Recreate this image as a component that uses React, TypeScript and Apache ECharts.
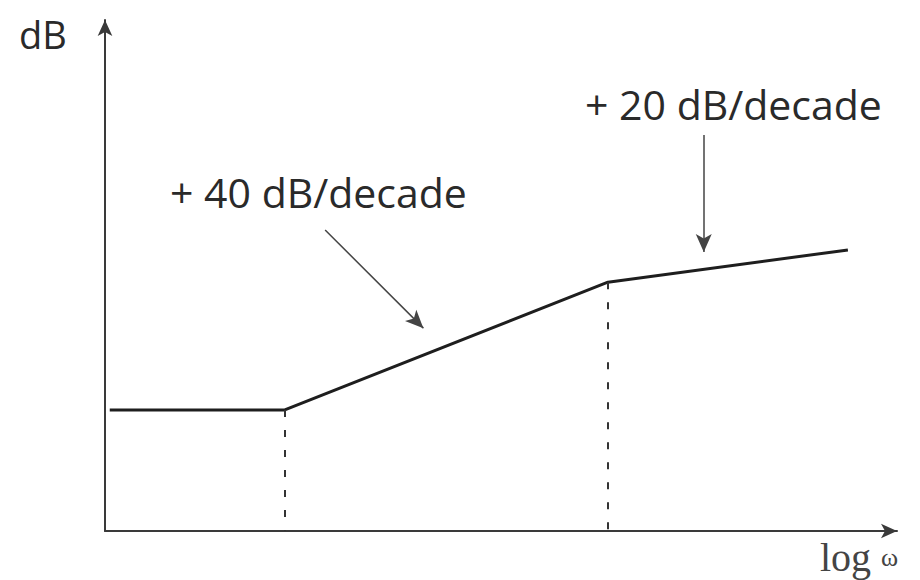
import React, { useEffect, useRef } from "react";
import * as echarts from "echarts";

// log frequency (decades, arbitrary origin) and gain (dB, arbitrary origin)
const logFreq = [0.06, 2.27, 6.35, 9.38];
const gainDb = [23.7, 23.7, 48.7, 55.0];
const breakIdx = [1, 2];

const slopeLabels = ["+ 40 dB/decade", "+ 20 dB/decade"];
// annotation arrows: [fromX, fromY, toX, toY]
const arrow40 = [2.78, 58.9, 4.02, 39.7];
const arrow20 = [7.56, 77.5, 7.56, 54.6];
const axisNames = ["dB", "log", "ω"];

export default function App() {
  const ref = useRef<HTMLDivElement>(null);
  useEffect(() => {
    if (!ref.current) return;
    const chart = echarts.init(ref.current, undefined, { renderer: "svg" });
    const ink = "#1e1e1e";
    const dashed = breakIdx.map((i) => [
      { coord: [logFreq[i], gainDb[i]] },
      { coord: [logFreq[i], 0] },
    ]);
    const arrows = [arrow40, arrow20].map((a) => [
      { coord: [a[0], a[1]] },
      { coord: [a[2], a[3]] },
    ]);
    chart.setOption({
      animation: false,
      backgroundColor: "#ffffff",
      grid: { left: 97, right: 31, top: 12, bottom: 57 },
      xAxis: {
        type: "value",
        min: 0,
        max: 10,
        axisLine: {
          show: true,
          symbol: ["none", "arrow"],
          symbolSize: [11, 16],
          lineStyle: { color: "#3a3a3a", width: 2 },
        },
        axisTick: { show: false },
        axisLabel: { show: false },
        splitLine: { show: false },
      },
      yAxis: {
        type: "value",
        min: 0,
        max: 100,
        axisLine: {
          show: true,
          symbol: ["none", "arrow"],
          symbolSize: [11, 16],
          lineStyle: { color: "#3a3a3a", width: 2 },
        },
        axisTick: { show: false },
        axisLabel: { show: false },
        splitLine: { show: false },
      },
      series: [
        {
          type: "line",
          data: logFreq.map((x, i) => [x, gainDb[i]]),
          showSymbol: false,
          lineStyle: { color: ink, width: 3 },
          markLine: {
            silent: true,
            symbol: ["none", "none"],
            label: { show: false },
            lineStyle: { color: "#333", width: 2, type: [7, 13] },
            data: dashed,
          },
        },
        {
          type: "line",
          data: [],
          markLine: {
            silent: true,
            symbol: ["none", "arrow"],
            symbolSize: [12, 18],
            label: { show: false },
            lineStyle: { color: "#444", width: 1.5, type: "solid" },
            data: arrows,
          },
        },
      ],
      graphic: [
        {
          type: "text",
          left: 11,
          top: 7,
          style: { text: axisNames[0], font: "38px 'Open Sans'", fill: "#2a2a2a" },
        },
        {
          type: "text",
          left: 812,
          top: 529,
          style: {
            text: "{a|" + axisNames[1] + "}{b|" + axisNames[2] + "}",
            rich: {
              a: { font: "40px 'Liberation Serif'", fill: "#444" },
              b: { font: "26px 'Liberation Serif'", fill: "#444", padding: [0, 0, 0, 10] },
            },
          },
        },
        {
          type: "text",
          left: 162,
          top: 163,
          style: { text: slopeLabels[0], font: "41px 'Open Sans'", fill: "#2a2a2a" },
        },
        {
          type: "text",
          left: 577,
          top: 75,
          style: { text: slopeLabels[1], font: "41px 'Open Sans'", fill: "#2a2a2a" },
        },
      ],
    });
    return () => chart.dispose();
  }, []);
  return <div ref={ref} style={{ width: 920, height: 580 }} />;
}
